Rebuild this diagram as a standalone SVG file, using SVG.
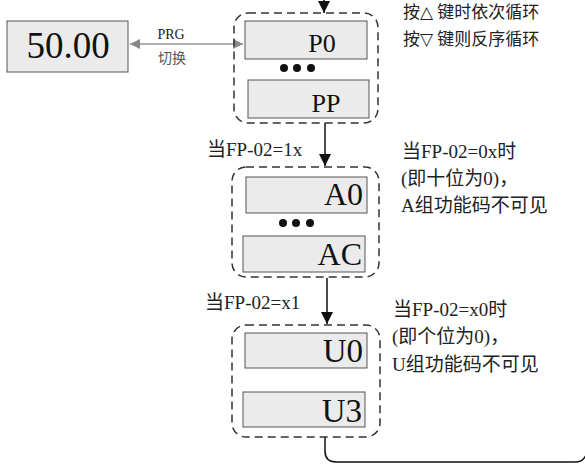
<svg xmlns="http://www.w3.org/2000/svg" width="585" height="464" viewBox="0 0 585 464">
<defs>
<style>
.box{fill:#ebebeb;stroke:#555;stroke-width:1}
.grp{fill:none;stroke:#333;stroke-width:1.5;stroke-dasharray:8 5}
.big{fill:#111}
.lbl{fill:#222;font-size:19px}
.line{fill:none;stroke:#111;stroke-width:1.5}
.gline{fill:none;stroke:#999;stroke-width:1.5}
</style>
<marker id="ag" viewBox="0 0 10 10" refX="10" refY="5" markerWidth="14" markerHeight="10" markerUnits="userSpaceOnUse" orient="auto-start-reverse"><path d="M0,0 L10,5 L0,10 z" fill="#888"/></marker>
<marker id="ab" viewBox="0 0 10 10" refX="10" refY="5" markerWidth="14" markerHeight="12" markerUnits="userSpaceOnUse" orient="auto"><path d="M0,0 L10,5 L0,10 z" fill="#111"/></marker>
</defs>

<g font-family="Liberation Serif, Times New Roman, DejaVu Serif, Noto Sans CJK SC, serif">
<g id="connectors">
<line class="line" x1="324" y1="0" x2="324" y2="13" marker-end="url(#ab)"/>
<line class="line" x1="325" y1="123" x2="325" y2="166" marker-end="url(#ab)"/>
<line class="line" x1="327" y1="278" x2="327" y2="324" marker-end="url(#ab)"/>
<path class="line" d="M325,437 V451 Q325,462 336,462 H575 Q583,462 586,455"/>
<line class="gline" x1="130" y1="44" x2="243" y2="44" marker-start="url(#ag)" marker-end="url(#ag)"/>
<text class="lbl" x="171" y="39" text-anchor="middle" font-size="14" fill="#444" style="font-size:14px">PRG</text>
<text class="lbl" x="172" y="63" text-anchor="middle" style="font-size:14px;fill:#555">切换</text>
<text class="lbl" x="207" y="156">当FP-02=1x</text>
<text class="lbl" x="205" y="309">当FP-02=x1</text>
</g>

<g id="display">
<rect class="box" x="7" y="21" width="121" height="51"/>
<text class="big" x="68" y="58" text-anchor="middle" font-size="37">50.00</text>
</g>

<g id="group-P">
<rect class="grp" x="234" y="13" width="144" height="110" rx="14"/>
<rect class="box" x="245" y="21" width="122" height="38"/>
<text class="big" x="322" y="52" text-anchor="middle" font-size="26">P0</text>
<circle cx="284" cy="68" r="4" fill="#111"/><circle cx="297" cy="68" r="4" fill="#111"/><circle cx="311" cy="68" r="4" fill="#111"/>
<rect class="box" x="248" y="80" width="121" height="38"/>
<text class="big" x="326" y="112" text-anchor="middle" font-size="26">PP</text>
</g>

<g id="group-A">
<rect class="grp" x="232" y="167" width="147" height="110" rx="14"/>
<rect class="box" x="246" y="177" width="121" height="36"/>
<text class="big" x="363" y="205" text-anchor="end" font-size="32">A0</text>
<circle cx="283" cy="223" r="4" fill="#111"/><circle cx="296" cy="223" r="4" fill="#111"/><circle cx="310" cy="223" r="4" fill="#111"/>
<rect class="box" x="243" y="236" width="122" height="36"/>
<text class="big" x="362" y="265" text-anchor="end" font-size="32">AC</text>
</g>

<g id="group-U">
<rect class="grp" x="232" y="325" width="148" height="112" rx="14"/>
<rect class="box" x="245" y="333" width="122" height="35"/>
<text class="big" x="363" y="362" text-anchor="end" font-size="33">U0</text>
<rect class="box" x="243" y="392" width="122" height="35"/>
<text class="big" x="362" y="422" text-anchor="end" font-size="33">U3</text>
</g>

<g id="notes">
<text class="lbl" x="403" y="18" style="font-size:17px">按△ 键时依次循环</text>
<text class="lbl" x="403" y="45" style="font-size:17px">按▽ 键则反序循环</text>
<text class="lbl" x="402" y="158">当FP-02=0x时</text>
<text class="lbl" x="401" y="185">(即十位为0)，</text>
<text class="lbl" x="401" y="212">A组功能码不可见</text>
<text class="lbl" x="393" y="316">当FP-02=x0时</text>
<text class="lbl" x="392" y="343">(即个位为0)，</text>
<text class="lbl" x="392" y="371">U组功能码不可见</text>
</g>
</g>
</svg>
